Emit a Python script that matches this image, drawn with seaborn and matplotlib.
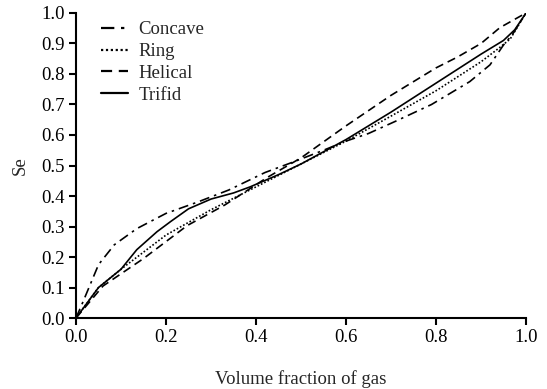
import matplotlib
matplotlib.use("Agg")
import matplotlib.pyplot as plt
import pandas as pd
import seaborn as sns

# Separation efficiency versus gas volume fraction for four swirl-element geometries
concave_x = [0, 0.016, 0.05, 0.085, 0.135, 0.2, 0.27, 0.34, 0.42, 0.48, 0.55, 0.6, 0.65, 0.71, 0.79, 0.875, 0.92, 0.95, 0.97, 1.0]
concave_y = [0, 0.055, 0.175, 0.24, 0.293, 0.343, 0.38, 0.42, 0.477, 0.51, 0.55, 0.58, 0.605, 0.645, 0.70, 0.775, 0.83, 0.895, 0.93, 1.0]

ring_x = [0, 0.05, 0.1, 0.2, 0.3, 0.4, 0.5, 0.6, 0.7, 0.8, 0.9, 0.94, 0.965, 1.0]
ring_y = [0, 0.1, 0.16, 0.272, 0.355, 0.43, 0.505, 0.58, 0.662, 0.745, 0.84, 0.885, 0.915, 1.0]

helical_x = [0, 0.06, 0.15, 0.247, 0.33, 0.424, 0.5, 0.6, 0.7, 0.8, 0.847, 0.9, 0.942, 1.0]
helical_y = [0, 0.105, 0.195, 0.303, 0.37, 0.46, 0.525, 0.63, 0.73, 0.82, 0.855, 0.9, 0.952, 1.0]

trifid_x = [0, 0.05, 0.1, 0.135, 0.18, 0.21, 0.25, 0.3, 0.35, 0.387, 0.45, 0.5, 0.6, 0.7, 0.8, 0.9, 0.95, 0.975, 1.0]
trifid_y = [0, 0.1, 0.16, 0.224, 0.283, 0.316, 0.358, 0.39, 0.41, 0.43, 0.47, 0.505, 0.585, 0.675, 0.77, 0.865, 0.91, 0.945, 1.0]

series = [
    ("Concave", concave_x, concave_y, (0, (6, 3, 1.5, 3))),
    ("Ring", ring_x, ring_y, (0, (1, 1.2))),
    ("Helical", helical_x, helical_y, (0, (5, 3))),
    ("Trifid", trifid_x, trifid_y, "-"),
]

sns.set_theme(style="ticks")
plt.rcParams["font.family"] = ["Liberation Serif", "DejaVu Serif"]

fig = plt.figure(figsize=(5.47, 3.89), dpi=100)
ax = fig.add_axes([0.139, 0.1825, 0.8226, 0.7841])

for name, xs, ys, ls in series:
    df = pd.DataFrame({"x": xs, "y": ys})
    sns.lineplot(data=df, x="x", y="y", ax=ax, sort=False, color="black",
                 linewidth=1.2, linestyle=ls, label=name)

ax.set_xlim(0, 1.0)
ax.set_ylim(0, 1.0)
ax.set_xticks([0, 0.2, 0.4, 0.6, 0.8, 1.0])
ax.set_yticks([i / 10 for i in range(11)])
ax.xaxis.set_major_formatter(matplotlib.ticker.FormatStrFormatter("%.1f"))
ax.yaxis.set_major_formatter(matplotlib.ticker.FormatStrFormatter("%.1f"))
ax.tick_params(direction="out", length=5, width=1.5, labelsize=13.5, colors="black", pad=3)
for side in ("top", "right"):
    ax.spines[side].set_visible(False)
for side in ("left", "bottom"):
    ax.spines[side].set_linewidth(1.5)
    ax.spines[side].set_color("black")

ax.set_xlabel("Volume fraction of gas", fontsize=13.5, labelpad=17)
ax.set_ylabel("Se", fontsize=13.5, labelpad=9)

leg = ax.legend(loc="upper left", bbox_to_anchor=(0.03, 1.01), frameon=False,
                fontsize=13.5, handlelength=1.45, handletextpad=0.55, labelspacing=0.25,
                borderaxespad=0.2)
for line in leg.get_lines():
    line.set_linewidth(1.6)

fig.savefig("out.png", dpi=100)
